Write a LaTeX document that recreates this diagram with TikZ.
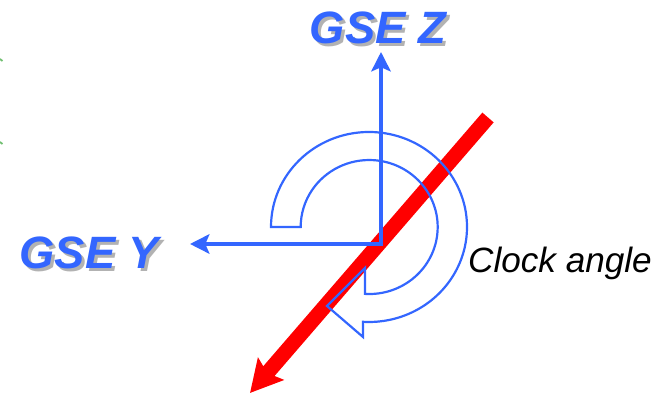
\documentclass[tikz,border=0pt]{standalone}
\usepackage{fontspec}
\setmainfont{Liberation Sans}
\usetikzlibrary{arrows.meta}
\definecolor{gseblue}{RGB}{51,102,255}
\definecolor{shadowgray}{RGB}{178,178,178}
\definecolor{edgegreen}{RGB}{110,190,110}
\newcommand{\shadowed}[1]{\makebox[0pt][l]{\hspace{1.7pt}\raisebox{-1.7pt}{\color{shadowgray}#1}}#1}

\begin{document}
\begin{tikzpicture}[
  x=0.02cm, y=0.02cm,
  gselabel/.style={font=\fontsize{25.8}{30}\selectfont\bfseries\itshape, text=gseblue, inner sep=0pt, anchor=base},
  anglabel/.style={font=\fontsize{20}{24}\selectfont\itshape, inner sep=0pt, anchor=base},
  axisline/.style={draw=gseblue, line width=2.55pt, line join=miter,
    {Stealth[length=11pt, width=11pt, inset=2.3pt]}-{Stealth[length=11pt, width=11pt, inset=2.3pt]}},
  imfline/.style={draw=red, line width=8.5pt, -{Stealth[length=18pt, width=19pt, inset=3pt]}},
  turnarrow/.style={draw=gseblue, line width=1.25pt, line join=miter}
]
\useasboundingbox (0,0) rectangle (662,394);

\coordinate (O) at (381,150);
\coordinate (ztip) at (381,342);
\coordinate (ytip) at (190,150);
\coordinate (imfstart) at (488,276.5);
\coordinate (imftip) at (250,1);
\coordinate (C) at (369,167);

% field direction
\draw[imfline] (imfstart) -- (imftip);

% clock angle turn
\draw[turnarrow] (C) ++(180:98 and 95)
  arc[start angle=180, end angle=-93.5, x radius=98, y radius=95]
  -- (363,57) -- (327,88) -- (365,126) -- (365,100.1)
  arc[start angle=-93.5, end angle=180, x radius=68.5, y radius=67] -- cycle;

% GSE axes
\draw[axisline] (ytip) -- (O) -- (ztip);

\node[gselabel] (zlab) at (378,350) {\shadowed{GSE Z}};
\node[gselabel] (ylab) at (89,125) {\shadowed{GSE Y}};
\node[anglabel] (clk) at (560,121) {Clock angle};

% cut-off marks at the left edge
\draw[edgegreen, line width=1pt] (0,335) -- (2.5,333);
\draw[edgegreen, line width=1pt] (0,252) -- (2.5,250);
\end{tikzpicture}
\end{document}
